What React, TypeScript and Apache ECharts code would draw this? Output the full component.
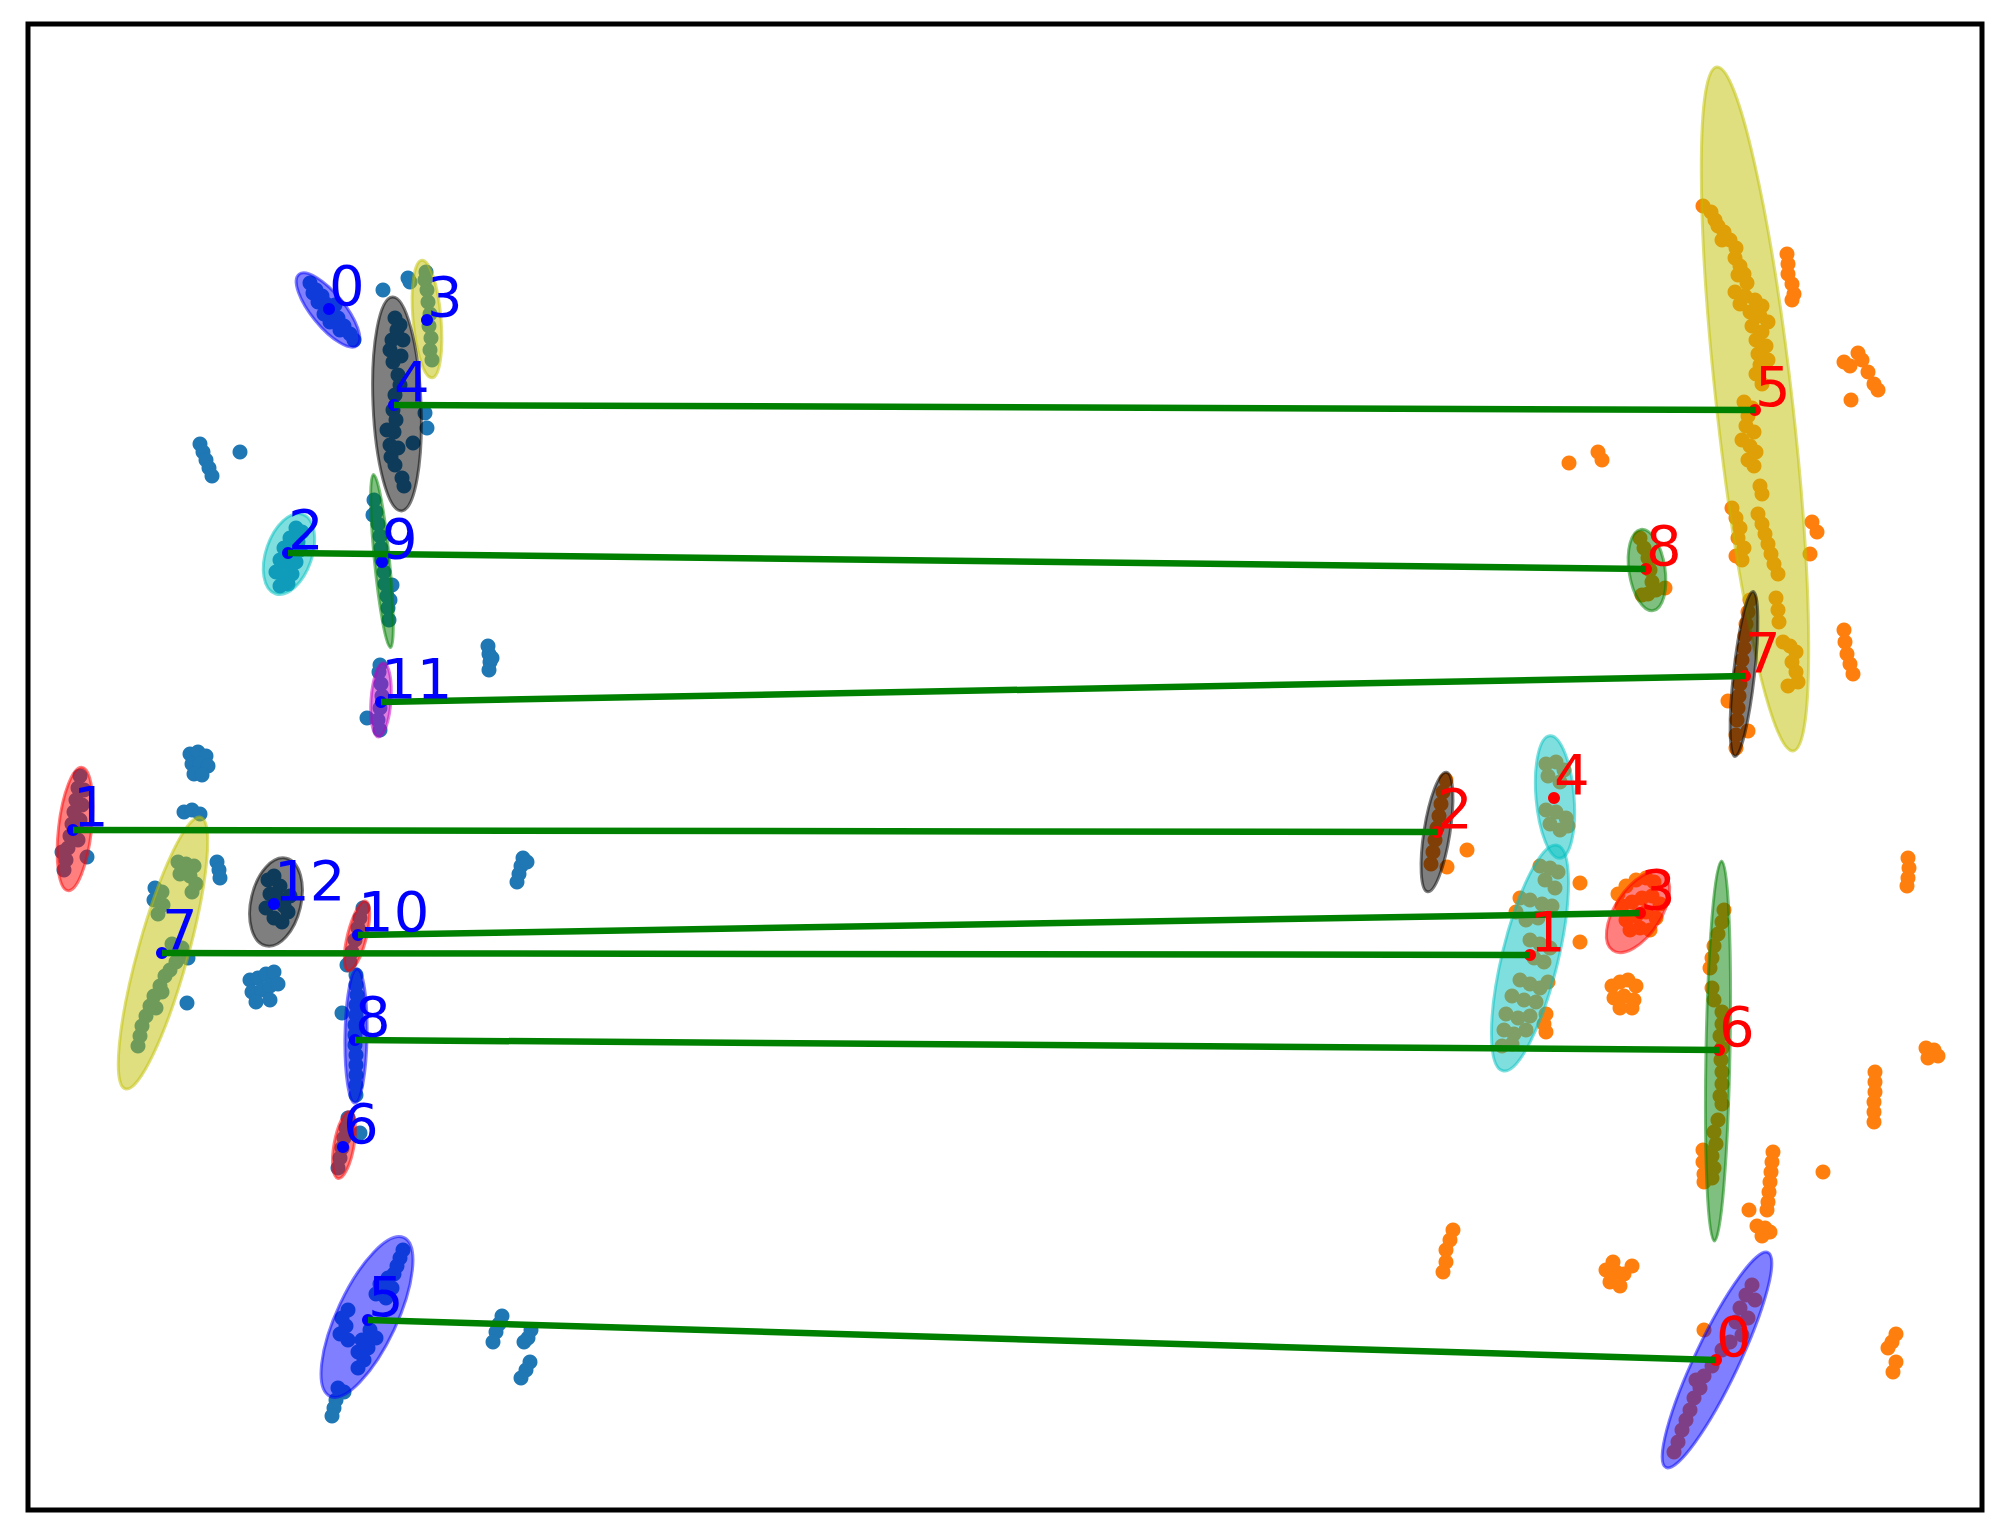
import React, { useEffect, useRef } from "react";
import * as echarts from "echarts";

// ---- data (pixel-space data units of the original figure) ----
const BLUE_POINTS: number[][] = [
  // cluster L0
  [310, 283], [316, 290], [322, 296], [318, 302], [326, 304], [332, 312], [338, 318], [344, 326], [350, 334], [340, 330], [330, 322], [324, 314], [354, 340], [313, 293], [335, 305],
  [383, 290], [408, 278], [410, 282],
  // cluster L3
  [426, 272], [425, 280], [427, 290], [428, 302], [430, 314], [429, 326], [431, 338], [430, 350], [432, 360],
  // cluster L4
  [397, 330], [392, 340], [390, 350], [393, 362], [398, 375], [400, 385], [395, 395], [393, 410], [396, 420], [394, 432], [390, 445], [391, 457], [395, 465], [413, 443], [402, 478], [404, 486], [395, 318], [400, 325], [403, 340], [401, 356], [387, 430], [398, 448],
  [427, 428], [425, 413],
  [200, 444], [203, 452], [206, 460], [209, 468], [212, 476], [240, 452],
  // cluster L9
  [374, 500], [376, 512], [378, 524], [380, 536], [381, 548], [382, 560], [384, 572], [385, 584], [387, 596], [388, 608], [389, 620], [390, 600], [392, 585], [373, 515],
  // cluster L2
  [296, 528], [302, 532], [290, 538], [298, 542], [284, 548], [292, 552], [300, 550], [280, 560], [288, 565], [296, 562], [276, 572], [284, 578], [292, 574], [280, 586], [288, 584],
  // cluster L11
  [379, 672], [381, 684], [382, 696], [380, 708], [378, 720], [380, 730], [367, 718], [380, 665],
  [488, 646], [489, 654], [490, 662], [489, 670], [492, 658],
  [193, 755],
  // cluster L1
  [80, 776], [78, 788], [76, 800], [74, 812], [72, 824], [70, 836], [68, 848], [66, 860], [64, 870], [84, 790], [82, 805], [80, 820], [78, 840], [62, 852], [87, 857],
  [190, 754], [198, 752], [206, 756], [192, 764], [200, 764], [208, 766], [194, 774], [202, 775],
  [184, 812], [192, 810], [200, 814],
  [217, 862], [219, 870], [220, 878],
  // cluster L7
  [178, 862], [186, 864], [194, 866], [180, 874], [190, 876], [196, 884], [192, 892],
  [155, 888], [162, 892], [154, 900], [163, 905], [158, 914],
  [172, 944], [182, 948], [188, 958], [176, 962], [170, 970],
  [165, 976], [160, 986], [154, 996], [150, 1006], [146, 1016], [142, 1026], [140, 1036], [138, 1046], [156, 1008], [162, 992],
  [187, 1003],
  // cluster L12
  [268, 880], [274, 876], [280, 886], [270, 894], [278, 898], [284, 906], [266, 908], [274, 918], [282, 922], [288, 912], [290, 896],
  [250, 980], [258, 978], [266, 974], [274, 972], [252, 992], [262, 990], [270, 986], [278, 984], [256, 1002], [270, 1000],
  [523, 858], [521, 866], [519, 874], [517, 882], [527, 862],
  // cluster L10
  [363, 908], [360, 918], [358, 928], [355, 940], [352, 952], [350, 962], [347, 965],
  // cluster L8
  [356, 975], [356, 985], [357, 995], [356, 1005], [356, 1015], [355, 1025], [355, 1035], [355, 1045], [356, 1055], [356, 1065], [356, 1075], [356, 1085], [356, 1095], [342, 1013],
  // cluster L6
  [348, 1118], [346, 1128], [344, 1138], [342, 1148], [340, 1158], [338, 1168], [360, 1133],
  // cluster L5
  [403, 1250], [400, 1258], [397, 1266], [394, 1274],
  [388, 1278], [380, 1284], [392, 1288], [376, 1294], [386, 1298],
  [348, 1310], [342, 1318], [346, 1326], [340, 1334], [348, 1340],
  [370, 1330], [376, 1338], [362, 1340], [368, 1348], [358, 1352], [364, 1360], [358, 1368],
  [338, 1388], [344, 1392],
  [336, 1400], [334, 1408], [332, 1416],
  [502, 1316], [499, 1324], [496, 1332], [493, 1342],
  [531, 1330], [528, 1338], [524, 1342],
  [530, 1362], [526, 1370], [521, 1378],
];

const ORANGE_POINTS: number[][] = [
  // cluster R5
  [1703, 206], [1711, 212], [1715, 220],
  [1718, 226], [1724, 232], [1730, 240], [1736, 248], [1722, 240],
  [1735, 258], [1740, 266], [1744, 274], [1747, 283], [1738, 275],
  [1735, 292], [1745, 296], [1755, 300], [1762, 306], [1740, 304],
  [1750, 312], [1760, 316], [1768, 322], [1752, 326], [1762, 332], [1756, 340], [1766, 346], [1758, 354], [1768, 360], [1760, 365],
  [1756, 374], [1762, 384],
  [1744, 402], [1752, 408], [1748, 416],
  [1746, 426], [1754, 432], [1742, 440], [1750, 446], [1756, 452], [1748, 460], [1754, 466],
  [1760, 486], [1762, 494],
  [1732, 508], [1736, 518], [1740, 528], [1738, 538], [1744, 548], [1736, 556], [1742, 560],
  [1758, 514], [1762, 524], [1765, 534], [1768, 544], [1771, 554], [1774, 564], [1778, 574],
  [1776, 598], [1778, 610], [1779, 622],
  [1783, 642], [1790, 646], [1796, 652], [1792, 662], [1796, 672], [1798, 682], [1788, 686],
  [1787, 254], [1788, 264], [1788, 274], [1792, 284], [1794, 294], [1792, 300],
  [1844, 362], [1850, 366], [1858, 353], [1862, 360], [1868, 372], [1874, 384], [1878, 390], [1851, 400],
  [1569, 463], [1598, 452], [1602, 460],
  [1812, 522], [1817, 532], [1810, 554],
  [1844, 630], [1845, 642], [1847, 654], [1850, 664], [1853, 674],
  [1728, 701], [1748, 731],
  // cluster R8
  [1640, 538], [1644, 548], [1648, 558], [1650, 570], [1652, 582], [1648, 594], [1656, 590], [1642, 595], [1665, 588],
  // cluster R7
  [1750, 600], [1748, 612], [1746, 624], [1745, 636], [1744, 648], [1742, 660], [1741, 672], [1740, 684], [1739, 696], [1738, 708], [1737, 720], [1736, 735], [1736, 748],
  // cluster R2
  [1446, 780], [1443, 792], [1441, 804], [1439, 816], [1437, 828], [1435, 840], [1433, 852], [1431, 864], [1447, 867], [1467, 850],
  // cluster R4
  [1546, 764], [1556, 762], [1564, 770], [1548, 776], [1560, 782], [1546, 810], [1556, 812], [1566, 818], [1550, 824], [1560, 830], [1568, 826],
  // cluster R1
  [1540, 866], [1550, 868], [1558, 872], [1545, 880], [1555, 888], [1520, 898], [1530, 900], [1542, 904], [1552, 906], [1516, 912], [1526, 920], [1538, 918],
  [1530, 940], [1540, 944], [1550, 948], [1534, 958], [1544, 962], [1520, 980], [1530, 984], [1540, 988], [1548, 982],
  [1512, 996], [1524, 1000], [1536, 1002], [1506, 1014], [1518, 1018], [1530, 1016], [1504, 1030], [1514, 1034], [1526, 1030], [1502, 1046], [1512, 1044],
  // cluster R3
  [1618, 894], [1626, 886], [1636, 880], [1646, 878], [1654, 882], [1622, 906], [1632, 902], [1642, 898], [1652, 896], [1660, 904],
  [1626, 920], [1636, 916], [1646, 912], [1656, 918], [1630, 930], [1640, 928], [1650, 930],
  [1580, 883], [1580, 942], [1612, 986], [1620, 982], [1628, 980], [1636, 986], [1614, 998], [1624, 996], [1634, 1000], [1620, 1008], [1632, 1008],
  [1546, 1014], [1544, 1024], [1546, 1032],
  // cluster R6
  [1724, 910], [1722, 922], [1718, 934], [1714, 946], [1712, 958], [1710, 968], [1712, 988], [1714, 1000], [1722, 1012], [1722, 1024], [1720, 1036], [1722, 1048],
  [1721, 1060], [1722, 1072], [1722, 1084], [1720, 1096], [1722, 1104], [1718, 1120], [1714, 1132], [1716, 1144], [1712, 1156], [1714, 1168], [1712, 1178],
  [1703, 1150], [1703, 1162], [1704, 1174], [1704, 1182],
  [1908, 858], [1909, 868], [1908, 878], [1907, 886],
  [1926, 1048], [1934, 1050], [1938, 1056], [1928, 1058],
  [1875, 1072], [1875, 1082], [1875, 1092], [1874, 1102], [1874, 1112], [1874, 1122],
  [1823, 1172],
  [1773, 1152], [1772, 1162], [1771, 1172], [1770, 1182], [1769, 1192], [1768, 1202], [1767, 1210],
  [1749, 1210], [1757, 1226], [1765, 1228], [1770, 1232], [1762, 1236],
  [1453, 1230], [1450, 1240], [1446, 1250], [1446, 1262], [1443, 1272],
  [1613, 1262], [1606, 1270], [1616, 1272], [1624, 1274], [1610, 1282], [1620, 1286], [1632, 1266],
  [1896, 1334], [1892, 1342], [1888, 1348], [1896, 1362], [1893, 1372],
  [1704, 1330],
  // cluster R0
  [1752, 1285], [1746, 1295], [1755, 1300], [1740, 1308], [1748, 1318], [1736, 1322], [1742, 1335], [1730, 1342], [1722, 1350],
  [1712, 1366], [1704, 1376], [1696, 1380], [1700, 1388], [1694, 1398], [1690, 1410], [1686, 1420], [1682, 1430], [1678, 1442], [1674, 1452],
];

// ellipse fits: [cx, cy, major, minor, angle(deg, counter-clockwise)]
const LEFT_ELLIPSES: number[][] = [
  [328, 310, 92, 33, -50.8],
  [75, 829, 124, 33, 83.5],
  [289, 554, 84, 46, 71],
  [427, 319, 118, 28, 95],
  [397, 404, 214, 48, 92.4],
  [367, 1317, 175, 60, 65],
  [344, 1145, 68, 20, 80],
  [163, 953, 282, 50, 74.5],
  [356, 1036, 134, 22, 89],
  [382, 561, 174, 15, 95.6],
  [357, 936, 72, 19, 76],
  [381, 700, 74, 20, 86],
  [276, 902, 90, 50, 76.8],
];
const LEFT_COLORS = ["b", "r", "c", "y", "k", "b", "r", "y", "b", "g", "r", "m", "k"];

const RIGHT_ELLIPSES: number[][] = [
  [1717, 1360, 238, 44, 64.6],
  [1530, 958, 232, 56, 76.4],
  [1437, 832, 121, 26, 81],
  [1638, 912, 92, 46, 57],
  [1555, 797, 123, 38, 94.8],
  [1755, 409, 688, 76, 96.4],
  [1718, 1051, 380, 24, 88.9],
  [1744, 674, 166, 21, 83.7],
  [1647, 570, 82, 36, 98.6],
];
const RIGHT_COLORS = ["b", "c", "k", "r", "c", "y", "g", "k", "g"];

// cluster centres (label anchors)
const LEFT_CENTERS: number[][] = [
  [329, 309], [73, 830], [288, 553], [427, 320], [394, 405], [368, 1320], [343, 1147],
  [162, 953], [355, 1040], [382, 562], [358, 935], [381, 702], [274, 904],
];
const LEFT_LABELS = ["0", "1", "2", "3", "4", "5", "6", "7", "8", "9", "10", "11", "12"];
const RIGHT_CENTERS: number[][] = [
  [1716, 1360], [1530, 955], [1437, 832], [1640, 913], [1554, 798], [1755, 410],
  [1719, 1050], [1745, 676], [1646, 569],
];
const RIGHT_LABELS = ["0", "1", "2", "3", "4", "5", "6", "7", "8"];

// matched pairs: left cluster -> right cluster
const MATCH_LEFT = [4, 2, 11, 1, 10, 7, 8, 5];
const MATCH_RIGHT = [5, 8, 7, 2, 3, 1, 6, 0];

const COLOR_MAP: Record<string, string> = {
  b: "0,0,255",
  r: "255,0,0",
  c: "0,191,191",
  y: "191,191,0",
  k: "0,0,0",
  g: "0,128,0",
  m: "191,0,191",
};

function ellipseSeries(data: number[][], colors: string[]) {
  return {
    type: "custom",
    z: 3,
    silent: true,
    encode: { x: 0, y: 1 },
    data,
    renderItem: (params: any, api: any) => {
      const p = api.coord([api.value(0), api.value(1)]);
      const s = api.size([api.value(2), api.value(3)]);
      const rgb = COLOR_MAP[colors[params.dataIndex]];
      return {
        type: "ellipse",
        x: p[0],
        y: p[1],
        rotation: (api.value(4) * Math.PI) / 180,
        shape: { cx: 0, cy: 0, rx: s[0] / 2, ry: s[1] / 2 },
        style: {
          fill: `rgba(${rgb},0.5)`,
          stroke: `rgba(${rgb},0.5)`,
          lineWidth: 3,
        },
      };
    },
  };
}

function labelSeries(data: number[][], labels: string[], color: string) {
  return {
    type: "custom",
    z: 7,
    silent: true,
    encode: { x: 0, y: 1 },
    data,
    renderItem: (params: any, api: any) => {
      const p = api.coord([api.value(0), api.value(1)]);
      return {
        type: "text",
        x: p[0],
        y: p[1] - 24,
        style: {
          text: labels[params.dataIndex],
          fill: color,
          font: '56px "DejaVu Sans"',
          align: "left",
          verticalAlign: "middle",
          textAlign: "left",
          textVerticalAlign: "middle",
        },
      };
    },
  };
}

export default function App() {
  const ref = useRef<HTMLDivElement>(null);
  useEffect(() => {
    if (!ref.current) return;
    const chart = echarts.init(ref.current, null, { renderer: "svg" });
    const linkData = MATCH_LEFT.map((li, k) => ({
      coords: [LEFT_CENTERS[li], RIGHT_CENTERS[MATCH_RIGHT[k]]],
    }));
    chart.setOption({
      animation: false,
      backgroundColor: "#ffffff",
      grid: {
        left: 28,
        top: 24,
        width: 1954,
        height: 1486,
        show: true,
        borderColor: "#000000",
        borderWidth: 5,
        backgroundColor: "transparent",
        z: 10,
      },
      xAxis: { type: "value", min: 28, max: 1982, show: false },
      yAxis: { type: "value", min: 24, max: 1510, inverse: true, show: false },
      series: [
        {
          type: "scatter",
          z: 1,
          silent: true,
          symbolSize: 15,
          itemStyle: { color: "#1f77b4", opacity: 1 },
          data: BLUE_POINTS,
        },
        {
          type: "scatter",
          z: 1,
          silent: true,
          symbolSize: 15,
          itemStyle: { color: "#ff7f0e", opacity: 1 },
          data: ORANGE_POINTS,
        },
        ellipseSeries(LEFT_ELLIPSES, LEFT_COLORS),
        ellipseSeries(RIGHT_ELLIPSES, RIGHT_COLORS),
        {
          type: "scatter",
          z: 4,
          silent: true,
          symbolSize: 12,
          itemStyle: { color: "#0000ff", opacity: 1 },
          data: LEFT_CENTERS,
        },
        {
          type: "scatter",
          z: 4,
          silent: true,
          symbolSize: 12,
          itemStyle: { color: "#ff0000", opacity: 1 },
          data: RIGHT_CENTERS,
        },
        {
          type: "lines",
          coordinateSystem: "cartesian2d",
          z: 5,
          silent: true,
          lineStyle: { color: "#008000", width: 6.5, opacity: 1 },
          data: linkData,
        },
        labelSeries(LEFT_CENTERS, LEFT_LABELS, "#0000ff"),
        labelSeries(RIGHT_CENTERS, RIGHT_LABELS, "#ff0000"),
      ],
    });
    return () => chart.dispose();
  }, []);
  return (
    <div
      ref={ref}
      style={{ position: "absolute", left: 0, top: 0, width: 2008, height: 1539, background: "#fff" }}
    />
  );
}
